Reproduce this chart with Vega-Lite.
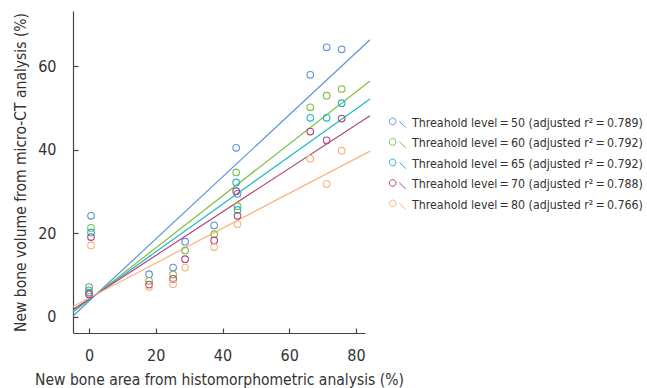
{
  "$schema": "https://vega.github.io/schema/vega-lite/v6.json",
  "autosize": "none",
  "padding": {"left": 73, "top": 11, "right": 282, "bottom": 55},
  "width": 292,
  "height": 322,
  "background": "white",
  "config": {
    "view": {"stroke": null},
    "font": "DejaVu Sans Condensed, sans-serif",
    "axis": {
      "grid": false,
      "domainColor": "#444444",
      "tickColor": "#444444",
      "labelColor": "#333333",
      "titleColor": "#333333",
      "labelFont": "DejaVu Sans Condensed, sans-serif",
      "titleFont": "DejaVu Sans Condensed, sans-serif",
      "labelFontSize": 16,
      "titleFontSize": 15.5,
      "titleFontWeight": "normal",
      "tickSize": -5,
      "domainWidth": 1.2,
      "tickWidth": 1.2
    },
    "legend": {
      "labelFont": "DejaVu Sans Condensed, sans-serif",
      "labelFontSize": 12.3,
      "labelColor": "#333333"
    }
  },
  "datasets": {
    "pts": [
      {"series": "Threahold level\u2009=\u200950 (adjusted r\u00b2\u2009=\u20090.789)", "x": 0.6, "y": 24.2},
      {"series": "Threahold level\u2009=\u200950 (adjusted r\u00b2\u2009=\u20090.789)", "x": 0, "y": 7.1},
      {"series": "Threahold level\u2009=\u200950 (adjusted r\u00b2\u2009=\u20090.789)", "x": 18, "y": 10.2},
      {"series": "Threahold level\u2009=\u200950 (adjusted r\u00b2\u2009=\u20090.789)", "x": 25.2, "y": 11.8},
      {"series": "Threahold level\u2009=\u200950 (adjusted r\u00b2\u2009=\u20090.789)", "x": 28.8, "y": 18.0},
      {"series": "Threahold level\u2009=\u200950 (adjusted r\u00b2\u2009=\u20090.789)", "x": 37.5, "y": 21.9},
      {"series": "Threahold level\u2009=\u200950 (adjusted r\u00b2\u2009=\u20090.789)", "x": 44.1, "y": 40.5},
      {"series": "Threahold level\u2009=\u200950 (adjusted r\u00b2\u2009=\u20090.789)", "x": 44.5, "y": 29.5},
      {"series": "Threahold level\u2009=\u200950 (adjusted r\u00b2\u2009=\u20090.789)", "x": 66.3, "y": 58.0},
      {"series": "Threahold level\u2009=\u200950 (adjusted r\u00b2\u2009=\u20090.789)", "x": 71.2, "y": 64.6},
      {"series": "Threahold level\u2009=\u200950 (adjusted r\u00b2\u2009=\u20090.789)", "x": 75.7, "y": 64.1},
      {"series": "Threahold level\u2009=\u200960 (adjusted r\u00b2\u2009=\u20090.792)", "x": 0.6, "y": 21.3},
      {"series": "Threahold level\u2009=\u200960 (adjusted r\u00b2\u2009=\u20090.792)", "x": 0, "y": 6.3},
      {"series": "Threahold level\u2009=\u200960 (adjusted r\u00b2\u2009=\u20090.792)", "x": 18, "y": 8.6},
      {"series": "Threahold level\u2009=\u200960 (adjusted r\u00b2\u2009=\u20090.792)", "x": 25.2, "y": 10.1},
      {"series": "Threahold level\u2009=\u200960 (adjusted r\u00b2\u2009=\u20090.792)", "x": 28.8, "y": 15.9},
      {"series": "Threahold level\u2009=\u200960 (adjusted r\u00b2\u2009=\u20090.792)", "x": 37.5, "y": 19.8},
      {"series": "Threahold level\u2009=\u200960 (adjusted r\u00b2\u2009=\u20090.792)", "x": 44.1, "y": 34.6},
      {"series": "Threahold level\u2009=\u200960 (adjusted r\u00b2\u2009=\u20090.792)", "x": 44.5, "y": 26.5},
      {"series": "Threahold level\u2009=\u200960 (adjusted r\u00b2\u2009=\u20090.792)", "x": 66.3, "y": 50.2},
      {"series": "Threahold level\u2009=\u200960 (adjusted r\u00b2\u2009=\u20090.792)", "x": 71.2, "y": 53.0},
      {"series": "Threahold level\u2009=\u200960 (adjusted r\u00b2\u2009=\u20090.792)", "x": 75.7, "y": 54.6},
      {"series": "Threahold level\u2009=\u200965 (adjusted r\u00b2\u2009=\u20090.792)", "x": 0.6, "y": 20.2},
      {"series": "Threahold level\u2009=\u200965 (adjusted r\u00b2\u2009=\u20090.792)", "x": 0, "y": 5.8},
      {"series": "Threahold level\u2009=\u200965 (adjusted r\u00b2\u2009=\u20090.792)", "x": 44.1, "y": 32.2},
      {"series": "Threahold level\u2009=\u200965 (adjusted r\u00b2\u2009=\u20090.792)", "x": 44.5, "y": 25.6},
      {"series": "Threahold level\u2009=\u200965 (adjusted r\u00b2\u2009=\u20090.792)", "x": 66.3, "y": 47.7},
      {"series": "Threahold level\u2009=\u200965 (adjusted r\u00b2\u2009=\u20090.792)", "x": 71.2, "y": 47.7},
      {"series": "Threahold level\u2009=\u200965 (adjusted r\u00b2\u2009=\u20090.792)", "x": 75.7, "y": 51.2},
      {"series": "Threahold level\u2009=\u200970 (adjusted r\u00b2\u2009=\u20090.788)", "x": 0.6, "y": 19.1},
      {"series": "Threahold level\u2009=\u200970 (adjusted r\u00b2\u2009=\u20090.788)", "x": 0, "y": 5.4},
      {"series": "Threahold level\u2009=\u200970 (adjusted r\u00b2\u2009=\u20090.788)", "x": 18, "y": 7.7},
      {"series": "Threahold level\u2009=\u200970 (adjusted r\u00b2\u2009=\u20090.788)", "x": 25.2, "y": 9.1},
      {"series": "Threahold level\u2009=\u200970 (adjusted r\u00b2\u2009=\u20090.788)", "x": 28.8, "y": 13.8},
      {"series": "Threahold level\u2009=\u200970 (adjusted r\u00b2\u2009=\u20090.788)", "x": 37.5, "y": 18.3},
      {"series": "Threahold level\u2009=\u200970 (adjusted r\u00b2\u2009=\u20090.788)", "x": 44.1, "y": 30.1},
      {"series": "Threahold level\u2009=\u200970 (adjusted r\u00b2\u2009=\u20090.788)", "x": 44.5, "y": 24.2},
      {"series": "Threahold level\u2009=\u200970 (adjusted r\u00b2\u2009=\u20090.788)", "x": 66.3, "y": 44.4},
      {"series": "Threahold level\u2009=\u200970 (adjusted r\u00b2\u2009=\u20090.788)", "x": 71.2, "y": 42.3},
      {"series": "Threahold level\u2009=\u200970 (adjusted r\u00b2\u2009=\u20090.788)", "x": 75.7, "y": 47.5},
      {"series": "Threahold level\u2009=\u200980 (adjusted r\u00b2\u2009=\u20090.766)", "x": 0.6, "y": 17.1},
      {"series": "Threahold level\u2009=\u200980 (adjusted r\u00b2\u2009=\u20090.766)", "x": 18, "y": 7.1},
      {"series": "Threahold level\u2009=\u200980 (adjusted r\u00b2\u2009=\u20090.766)", "x": 25.2, "y": 7.8},
      {"series": "Threahold level\u2009=\u200980 (adjusted r\u00b2\u2009=\u20090.766)", "x": 28.8, "y": 11.8},
      {"series": "Threahold level\u2009=\u200980 (adjusted r\u00b2\u2009=\u20090.766)", "x": 37.5, "y": 16.7},
      {"series": "Threahold level\u2009=\u200980 (adjusted r\u00b2\u2009=\u20090.766)", "x": 44.5, "y": 22.2},
      {"series": "Threahold level\u2009=\u200980 (adjusted r\u00b2\u2009=\u20090.766)", "x": 66.3, "y": 37.9},
      {"series": "Threahold level\u2009=\u200980 (adjusted r\u00b2\u2009=\u20090.766)", "x": 71.2, "y": 31.8},
      {"series": "Threahold level\u2009=\u200980 (adjusted r\u00b2\u2009=\u20090.766)", "x": 75.7, "y": 39.8}
    ],
    "fits": [
      {"series": "Threahold level\u2009=\u200950 (adjusted r\u00b2\u2009=\u20090.789)", "x": -4.8, "y": 0.19},
      {"series": "Threahold level\u2009=\u200950 (adjusted r\u00b2\u2009=\u20090.789)", "x": 84.2, "y": 66.4},
      {"series": "Threahold level\u2009=\u200960 (adjusted r\u00b2\u2009=\u20090.792)", "x": -4.8, "y": 1.04},
      {"series": "Threahold level\u2009=\u200960 (adjusted r\u00b2\u2009=\u20090.792)", "x": 84.2, "y": 56.5},
      {"series": "Threahold level\u2009=\u200965 (adjusted r\u00b2\u2009=\u20090.792)", "x": -4.8, "y": 1.4},
      {"series": "Threahold level\u2009=\u200965 (adjusted r\u00b2\u2009=\u20090.792)", "x": 84.2, "y": 52.2},
      {"series": "Threahold level\u2009=\u200970 (adjusted r\u00b2\u2009=\u20090.788)", "x": -4.8, "y": 1.74},
      {"series": "Threahold level\u2009=\u200970 (adjusted r\u00b2\u2009=\u20090.788)", "x": 84.2, "y": 48.2},
      {"series": "Threahold level\u2009=\u200980 (adjusted r\u00b2\u2009=\u20090.766)", "x": -4.8, "y": 2.47},
      {"series": "Threahold level\u2009=\u200980 (adjusted r\u00b2\u2009=\u20090.766)", "x": 84.2, "y": 39.7}
    ]
  },
  "encoding": {
    "x": {
      "field": "x", "type": "quantitative",
      "scale": {"domain": [-4.8, 82.7], "nice": false, "zero": false},
      "axis": {"values": [0, 20, 40, 60, 80], "title": "New bone area from histomorphometric analysis (%)", "labelPadding": 19, "titlePadding": 9}
    },
    "y": {
      "field": "y", "type": "quantitative",
      "scale": {"domain": [-3.9, 73.3], "nice": false, "zero": false},
      "axis": {"values": [0, 20, 40, 60], "title": "New bone volume from micro-CT analysis (%)", "labelPadding": 22, "titlePadding": 9}
    },
    "color": {
      "field": "series", "type": "nominal",
      "scale": {
        "domain": [
          "Threahold level\u2009=\u200950 (adjusted r\u00b2\u2009=\u20090.789)",
          "Threahold level\u2009=\u200960 (adjusted r\u00b2\u2009=\u20090.792)",
          "Threahold level\u2009=\u200965 (adjusted r\u00b2\u2009=\u20090.792)",
          "Threahold level\u2009=\u200970 (adjusted r\u00b2\u2009=\u20090.788)",
          "Threahold level\u2009=\u200980 (adjusted r\u00b2\u2009=\u20090.766)"
        ],
        "range": ["#5f93da", "#7dc242", "#1fb6c6", "#b2447f", "#fbb380"]
      },
      "legend": {
        "title": null,
        "orient": "none",
        "legendX": 315,
        "legendY": 102,
        "symbolType": "M-0.91,-0.12 A0.37,0.37 0 1,1 -0.17,-0.12 A0.37,0.37 0 1,1 -0.91,-0.12 M0.22,-0.12 L0.92,0.56",
        "symbolSize": 324,
        "symbolStrokeWidth": 1,
        "symbolFillColor": "transparent",
        "labelOffset": 5,
        "rowPadding": 3.5,
        "labelLimit": 400
      }
    }
  },
  "layer": [
    {
      "data": {"name": "fits"},
      "mark": {"type": "line", "strokeWidth": 1.2},
      "encoding": {
        "detail": {"field": "series"}
      }
    },
    {
      "data": {"name": "pts"},
      "mark": {"type": "point", "shape": "circle", "filled": false, "size": 44, "strokeWidth": 1.1, "opacity": 1}
    }
  ]
}
